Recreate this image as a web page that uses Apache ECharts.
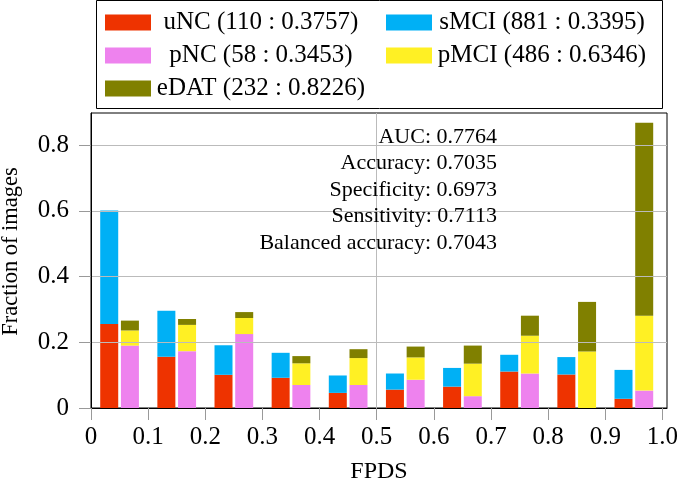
<!DOCTYPE html>
<html><head><meta charset="utf-8">
<script src="https://cdn.jsdelivr.net/npm/echarts@6/dist/echarts.min.js"></script>
<style>html,body{margin:0;padding:0;background:#fff}#c{width:677px;height:480px}</style>
</head><body><div id="c"></div>
<script>
// Bins of FPDS (start of each 0.1-wide bin)
const binStarts = [0, 0.1, 0.2, 0.3, 0.4, 0.5, 0.6, 0.7, 0.8, 0.9];
const xTicks = [0, 0.1, 0.2, 0.3, 0.4, 0.5, 0.6, 0.7, 0.8, 0.9, 1.0];
const yTicks = [0, 0.2, 0.4, 0.6, 0.8];

// Fractions of images per bin (segment heights)
const uNC  = [0.256, 0.156, 0.101, 0.092, 0.046, 0.056, 0.065, 0.111, 0.102, 0.028];
const sMCI = [0.345, 0.140, 0.090, 0.076, 0.053, 0.049, 0.057, 0.051, 0.053, 0.088];
const pNC  = [0.190, 0.173, 0.225, 0.070, 0.070, 0.086, 0.036, 0.105, 0.000, 0.053];
const pMCI = [0.046, 0.080, 0.049, 0.066, 0.082, 0.068, 0.099, 0.115, 0.172, 0.228];
const eDAT = [0.030, 0.018, 0.018, 0.022, 0.027, 0.033, 0.055, 0.061, 0.151, 0.587];

const seriesNames = ['uNC (110 : 0.3757)', 'sMCI (881 : 0.3395)', 'pNC (58 : 0.3453)', 'pMCI (486 : 0.6346)', 'eDAT (232 : 0.8226)'];
const statLabels = ['AUC', 'Accuracy', 'Specificity', 'Sensitivity', 'Balanced accuracy'];
const statValues = ['0.7764', '0.7035', '0.6973', '0.7113', '0.7043'];
const thresholdX = 0.5;

const FONT = 'Liberation Serif';
const colors = ['#EE3300', '#00B0F5', '#EE82EE', '#FFF024', '#808000'];
const binHalf = (binStarts[1] - binStarts[0]) / 2;
const BAR_W = 18, HALF_PITCH = 10.35;

// stack groups: left bar = uNC, sMCI ; right bar = pNC, pMCI, eDAT
const groups = [
  { side: -1, members: [[0, uNC], [1, sMCI]] },
  { side: 1, members: [[2, pNC], [3, pMCI], [4, eDAT]] }
];

function renderer(side) {
  return function (params, api) {
    const x = api.value(0), top = api.value(1), base = api.value(2);
    const pTop = api.coord([x, top]);
    const pBase = api.coord([x, base]);
    const cx = pTop[0] + side * HALF_PITCH;
    return {
      type: 'rect',
      shape: { x: cx - BAR_W / 2, y: pTop[1], width: BAR_W, height: pBase[1] - pTop[1] },
      style: { fill: api.visual('color') }
    };
  };
}

const series = [];
groups.forEach(g => {
  const base = binStarts.map(() => 0);
  g.members.forEach(([idx, vals]) => {
    const data = vals.map((v, i) => {
      const b = base[i];
      base[i] = b + v;
      return [binStarts[i] + binHalf, b + v, b];
    });
    series.push({
      name: seriesNames[idx], type: 'custom', renderItem: renderer(g.side),
      itemStyle: { color: colors[idx] }, encode: { x: 0, y: [1, 2] },
      data: data, silent: true, z: 2
    });
  });
});
series[0].markLine = { silent: true, symbol: 'none', label: { show: false },
  lineStyle: { color: '#bbb', width: 1, type: 'solid' }, data: [{ xAxis: thresholdX }] };

const fmt = v => (v === 0 ? '0' : v.toFixed(1));
const legendCommon = {
  orient: 'vertical', top: 10, itemWidth: 46, itemHeight: 16, itemGap: 8, padding: 0,
  icon: 'rect', selectedMode: false,
  formatter: n => '{t|' + n + '}',
  textStyle: { rich: { t: { width: 210, align: 'center', fontSize: 25, fontFamily: FONT, color: '#000', height: 24, lineHeight: 24 } } }
};

const chart = echarts.init(document.getElementById('c'), null, { renderer: 'canvas' });
chart.setOption({
  animation: false,
  backgroundColor: '#fff',
  textStyle: { fontFamily: FONT, color: '#000' },
  grid: { left: 91, right: 10, top: 113, bottom: 72, outerBoundsMode: 'none', containLabel: false,
          show: true, borderColor: '#000', borderWidth: 1, backgroundColor: 'transparent' },
  legend: [
    Object.assign({ left: 105, data: [seriesNames[0], seriesNames[2], seriesNames[4]] }, legendCommon),
    Object.assign({ left: 386, data: [seriesNames[1], seriesNames[3]] }, legendCommon)
  ],
  xAxis: {
    type: 'value', min: 0, max: 1.008, interval: 0.1, z: 3,
    axisLine: { show: true, lineStyle: { color: '#000', width: 1 } },
    axisTick: { show: true, customValues: xTicks, length: 12, lineStyle: { color: '#999' } },
    axisLabel: { customValues: xTicks, formatter: fmt, fontSize: 25, fontFamily: FONT, color: '#000', margin: 17 },
    splitLine: { show: false },
    name: 'FPDS', nameLocation: 'middle', nameGap: 52,
    nameTextStyle: { fontSize: 24, fontFamily: FONT, color: '#000' }
  },
  yAxis: {
    type: 'value', min: 0, max: 0.898, interval: 0.2, z: 3,
    axisLine: { show: true, lineStyle: { color: '#000', width: 1 } },
    axisTick: { show: true, customValues: yTicks, length: 12, lineStyle: { color: '#999' } },
    axisLabel: { customValues: yTicks, formatter: fmt, fontSize: 25, fontFamily: FONT, color: '#000', margin: 22 },
    splitLine: { show: true, lineStyle: { color: '#bbb', width: 1 } },
    name: 'Fraction of images', nameLocation: 'middle', nameGap: 68,
    nameTextStyle: { fontSize: 22.5, fontFamily: FONT, color: '#000', padding: [0, 0, 0, 18] }
  },
  graphic: [
    { type: 'rect', shape: { x: 96.5, y: 0.5, width: 566, height: 108 }, style: { fill: 'none', stroke: '#000', lineWidth: 1 }, silent: true },
    { type: 'text', x: 497, y: 123.5, silent: true, z: 10,
      style: { text: statLabels.map((l, i) => l + ': ' + statValues[i]).join('\n'),
               font: '22px "Liberation Serif"', align: 'right', textAlign: 'right', verticalAlign: 'top', textVerticalAlign: 'top',
               lineHeight: 26.5, fill: '#000' } }
  ],
  series: series
});
</script></body></html>
